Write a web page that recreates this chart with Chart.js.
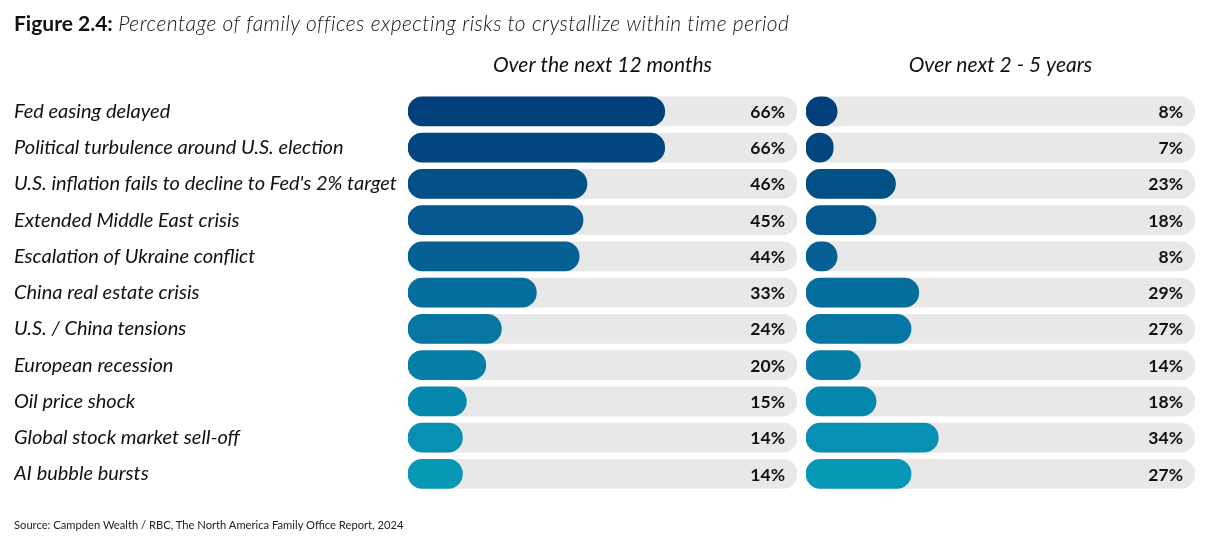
<!DOCTYPE html>
<html>
<head>
<meta charset="utf-8">
<script src="https://cdn.jsdelivr.net/npm/chart.js@4.4.1/dist/chart.umd.min.js"></script>
<style>
  body { margin: 0; background: #fff; font-family: Lato, "Open Sans", sans-serif; color: #111; }
  #wrap { position: relative; width: 1207px; height: 540px; overflow: hidden; }
  canvas { position: absolute; top: 0; }
  #c1 { left: 0; }
  #c2 { left: 800px; }
  .fig { position: absolute; left: 14px; top: 10px; font-size: 21px; z-index: 2; white-space: nowrap; }
  .fig b { font-weight: 700; }
  .fig i { font-weight: 300; letter-spacing: 0.5px; }
  .src { position: absolute; left: 14px; top: 518px; font-size: 11.2px; color: #222; z-index: 2; }
</style>
</head>
<body>
<div id="wrap">
  <div class="fig"><b>Figure 2.4:</b> <i>Percentage of family offices expecting risks to crystallize within time period</i></div>
  <canvas id="c1" width="800" height="540"></canvas>
  <canvas id="c2" width="407" height="540"></canvas>
  <div class="src">Source: Campden Wealth / RBC, The North America Family Office Report, 2024</div>
</div>
<script>
var categories = [
    'Fed easing delayed',
    'Political turbulence around U.S. election',
    "U.S. inflation fails to decline to Fed's 2% target",
    'Extended Middle East crisis',
    'Escalation of Ukraine conflict',
    'China real estate crisis',
    'U.S. / China tensions',
    'European recession',
    'Oil price shock',
    'Global stock market sell-off',
    'AI bubble bursts'
];
var next12Months = [66, 66, 46, 45, 44, 33, 24, 20, 15, 14, 14];
var next2to5Years = [8, 7, 23, 18, 8, 29, 27, 14, 18, 34, 27];
var panelTitles = ['Over the next 12 months', 'Over next 2 - 5 years'];

var rowColors = ['#01407a', '#024680', '#035086', '#04588e', '#056094', '#066e9c', '#0677a3', '#067fa8', '#0587ae', '#0690b2', '#0798b6'];

// draw the % figure at the right end of each grey track
var valueLabels = {
    id: 'valueLabels',
    afterDatasetsDraw: function(chart) {
        var ctx = chart.ctx;
        var meta = chart.getDatasetMeta(0);
        var data = chart.data.datasets[0].data;
        ctx.save();
        ctx.font = 'bold 17.5px Lato';
        ctx.fillStyle = '#111';
        ctx.textAlign = 'right';
        ctx.textBaseline = 'middle';
        meta.data.forEach(function(bar, i) {
            ctx.fillText(data[i] + '%', chart.chartArea.right - 12, bar.y + 1);
        });
        ctx.restore();
    }
};

var makeChart = function(id, values, title, showLabels, pad) {
    return new Chart(document.getElementById(id), {
        type: 'bar',
        data: {
            labels: categories,
            datasets: [{
                data: values,
                backgroundColor: rowColors,
                barThickness: 29,
                borderRadius: 15,
                borderSkipped: false,
                grouped: false,
                order: 0
            }, {
                data: categories.map(function() { return 100; }),
                backgroundColor: '#e8e8e8',
                barThickness: 29,
                borderRadius: 15,
                borderSkipped: false,
                grouped: false,
                order: 1
            }]
        },
        options: {
            indexAxis: 'y',
            responsive: false,
            animation: false,
            layout: {
                padding: pad
            },
            scales: {
                x: { display: false, min: 0, max: 100 },
                y: {
                    display: showLabels,
                    grid: { display: false },
                    border: { display: false },
                    ticks: {
                        crossAlign: 'far',
                        color: '#111',
                        font: { family: 'Lato', size: 20, style: 'italic', weight: 400 }
                    },
                    afterFit: function(scale) { if (showLabels) { scale.width = 394; } }
                }
            },
            plugins: {
                legend: { display: false },
                tooltip: { enabled: false },
                title: {
                    display: true,
                    text: title,
                    fullSize: false,
                    color: '#111',
                    font: { family: 'Lato', size: 21, style: 'italic', weight: 400 },
                    padding: { top: 53, bottom: 15 }
                }
            }
        },
        plugins: [valueLabels]
    });
};

makeChart('c1', next12Months, panelTitles[0], true, { left: 14, right: 3, top: 0, bottom: 48 });
makeChart('c2', next2to5Years, panelTitles[1], false, { left: 6, right: 12, top: 0, bottom: 48 });
</script>
</body>
</html>
